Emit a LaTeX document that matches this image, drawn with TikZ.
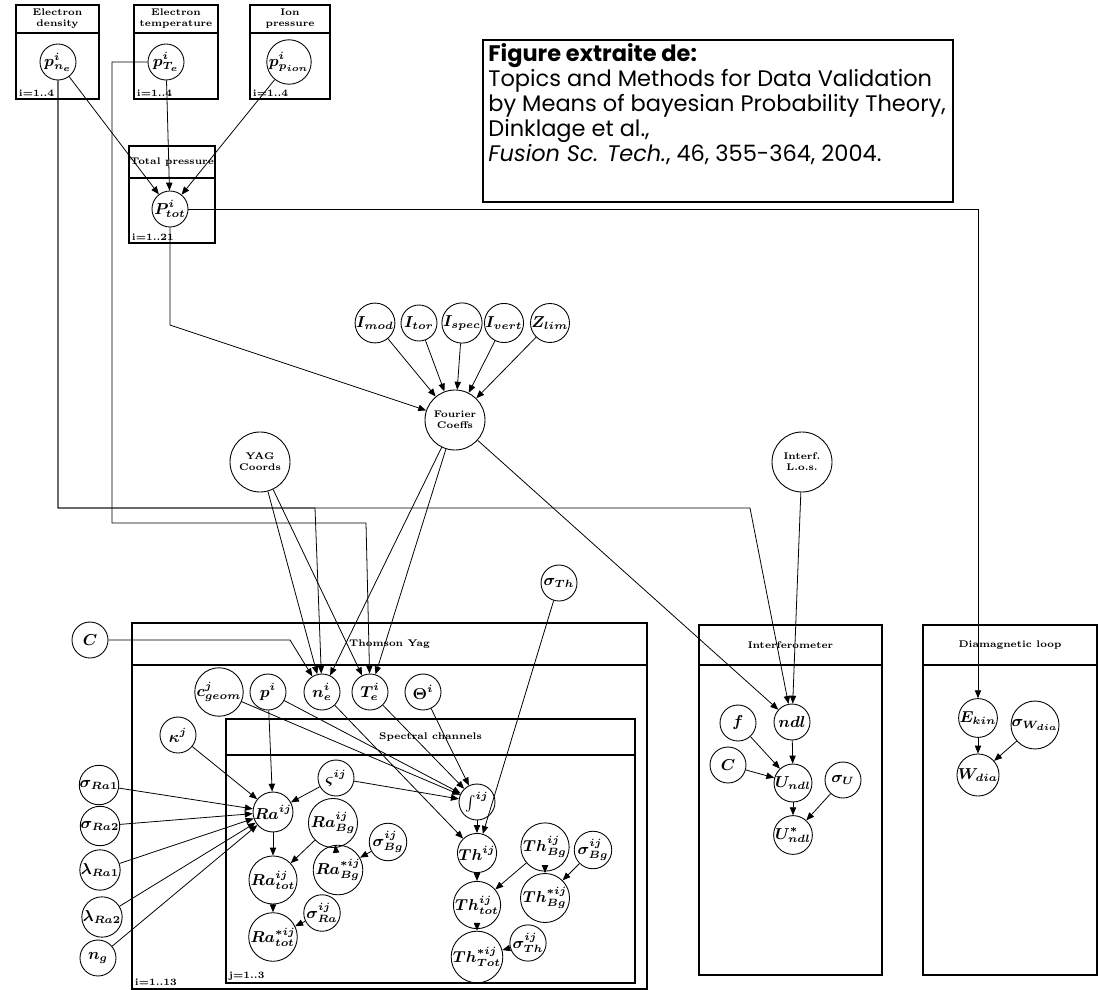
\documentclass[tikz,border=0pt]{standalone}
\usepackage{amsmath, amssymb}
\usepackage{fontspec}
\usepackage{tikz}
\usetikzlibrary{arrows.meta}
\newfontfamily\gothic{Poppins}
% plate: name, x1, y1, x2, y2, header y, title, index
\newcommand{\plate}[8]{%
  \draw[platebox] (#2,#3) rectangle (#4,#5);
  \draw[platebox] (#2,#6) -- (#4,#6);
  \node[platetitle] (#1t) at ({(#2+#4)/2},{(#3+#6)/2}) {#7};
  \node[plateindex] (#1i) at (#2,#5) {#8};
}
\begin{document}
\begin{tikzpicture}[x=0.02cm, y=-0.02cm,
    var/.style={circle, draw, line width=0.5pt, minimum size=0.72cm, inner sep=0pt,
      font=\fontsize{8.6}{10}\selectfont\boldmath},
    bigvar/.style={circle, draw, line width=0.5pt, minimum size=1.2cm, inner sep=0pt,
      align=center, font=\fontsize{5.5}{6.2}\selectfont\bfseries},
    platebox/.style={line width=0.6pt},
    platetitle/.style={align=center, inner sep=0pt, font=\fontsize{5.5}{6.2}\selectfont\bfseries},
    plateindex/.style={anchor=south west, inner sep=1.5pt, font=\fontsize{5.5}{6.2}\selectfont\bfseries},
    arr/.style={-{Triangle[length=4.5pt,width=3.6pt]}, line width=0.45pt}]
  \useasboundingbox (0,0) rectangle (1099,990);

  % Plates
  \plate{dens}{16}{5}{99}{99}{33}{Electron\\density}{i=1..4}
  \plate{temp}{134}{5}{218}{99}{33}{Electron\\temperature}{i=1..4}
  \plate{ion}{250}{5}{330}{99}{33}{Ion\\pressure}{i=1..4}
  \plate{tot}{129}{146}{215}{243}{178}{Total pressure}{i=1..21}
  \plate{thom}{132}{623}{647}{989}{665}{Thomson Yag}{i=1..13}
  \plate{spec}{226}{719}{635}{983}{755}{Spectral channels}{j=1..3}
  \plate{intf}{699}{625}{882}{975}{665}{Interferometer}{}
  \plate{diam}{923}{625}{1097}{975}{665}{Diamagnetic loop}{}

  % Reference box
  \draw[line width=1pt] (483,40) rectangle (953,202);
  \node[anchor=north west, align=left, inner sep=0pt,
    font=\gothic\fontsize{12.8}{14.3}\selectfont] (ref) at (488,43)
    {\textbf{Figure extraite de:}\\
     Topics and Methods for Data Validation\\
     by Means of bayesian Probability Theory,\\
     Dinklage et al.,\\
     \textit{Fusion Sc. Tech.}, 46, 355-364, 2004.};

  % Pressures
  \node[var] (pne) at (58,62) {$p^{i}_{n_e}$};
  \node[var] (pte) at (166,62) {$p^{i}_{T_e}$};
  \node[var] (pion) at (289,62) {$p^{i}_{p_{ion}}$};
  \node[var] (ptot) at (170,209) {$P^{i}_{tot}$};

  % Equilibrium
  \node[var] (imod) at (375,323) {$I_{mod}$};
  \node[var] (itor) at (419,323) {$I_{tor}$};
  \node[var] (ispec) at (462,323) {$I_{spec}$};
  \node[var] (ivert) at (504,323) {$I_{vert}$};
  \node[var] (zlim) at (550,323) {$Z_{lim}$};
  \node[bigvar] (fc) at (455,420) {Fourier\\Coeffs};
  \node[bigvar] (yag) at (260,462) {YAG\\Coords};
  \node[bigvar] (los) at (802,462) {Interf.\\L.o.s.};
  \node[var] (sth) at (559,583) {$\sigma_{Th}$};

  % Thomson Yag
  \node[var] (c1) at (90,640) {$C$};
  \node[var] (cgeom) at (219,692) {$c^{j}_{geom}$};
  \node[var] (pi) at (268,692) {$p^{i}$};
  \node[var] (ne) at (322,692) {$n^{i}_{e}$};
  \node[var] (te) at (370,692) {$T^{i}_{e}$};
  \node[var] (theta) at (423,692) {$\Theta^{i}$};
  \node[var] (kappa) at (178,735) {$\kappa^{j}$};
  \node[var] (zeta) at (336,778) {$\varsigma^{ij}$};
  \node[var] (sra1) at (99,785) {$\sigma_{Ra1}$};
  \node[var] (sra2) at (100,826) {$\sigma_{Ra2}$};
  \node[var] (lra1) at (100,870) {$\lambda_{Ra1}$};
  \node[var] (lra2) at (102,917) {$\lambda_{Ra2}$};
  \node[var] (ng) at (98,958) {$n_{g}$};

  % Spectral channels
  \node[var, minimum size=0.76cm] (ra) at (273,812) {$Ra^{ij}$};
  \node[var] (rabg) at (333,823) {$Ra^{ij}_{Bg}$};
  \node[var] (ratot) at (273,880) {$Ra^{ij}_{tot}$};
  \node[var] (rabgs) at (338,870) {$Ra^{*ij}_{Bg}$};
  \node[var] (sra) at (322,913) {$\sigma^{ij}_{Ra}$};
  \node[var] (ratots) at (273,937) {$Ra^{*ij}_{tot}$};
  \node[var] (sbgl) at (388,842) {$\sigma^{ij}_{Bg}$};
  \node[var] (int) at (477,802) {$\int^{ij}$};
  \node[var] (th) at (477,853) {$Th^{ij}$};
  \node[var] (thbg) at (545,847) {$Th^{ij}_{Bg}$};
  \node[var] (sbgr) at (593,850) {$\sigma^{ij}_{Bg}$};
  \node[var] (thbgs) at (545,898) {$Th^{*ij}_{Bg}$};
  \node[var] (thtot) at (477,905) {$Th^{ij}_{tot}$};
  \node[var] (sthij) at (528,943) {$\sigma^{ij}_{Th}$};
  \node[var] (thtots) at (477,957) {$Th^{*ij}_{Tot}$};

  % Interferometer
  \node[var] (ndl) at (792,722) {$ndl$};
  \node[var] (f) at (738,723) {$f$};
  \node[var] (c2) at (728,765) {$C$};
  \node[var] (undl) at (793,783) {$U_{ndl}$};
  \node[var] (su) at (843,780) {$\sigma_{U}$};
  \node[var] (undls) at (793,835) {$U^{*}_{ndl}$};

  % Diamagnetic loop
  \node[var] (ekin) at (978,718) {$E_{kin}$};
  \node[var] (sw) at (1035,725) {$\sigma_{W_{dia}}$};
  \node[var] (wdia) at (978,775) {$W_{dia}$};

  % Connectors
  \draw[arr] (pne) -- (ptot);
  \draw[arr] (pte) -- (ptot);
  \draw[arr] (pion) -- (ptot);
  \draw[arr] (pne) |- (750,508) -- (ndl);
  \draw[arr] (pne) |- (315,508) -- (ne);
  \draw[arr] (pte.west) -- (112,62) |- (366,523) -- (te);
  \draw[arr] (ptot) -- (170,325) -- (fc);
  \draw[arr] (ptot) -| (ekin);
  \foreach \src in {imod,itor,ispec,ivert,zlim}
    \draw[arr] (\src) -- (fc);
  \draw[arr] (yag) -- (ne);
  \draw[arr] (yag) -- (te);
  \draw[arr] (fc) -- (ne);
  \draw[arr] (fc) -- (te);
  \draw[arr] (fc) -- (ndl);
  \draw[arr] (los) -- (ndl);
  \draw[arr] (c1) -- (290,640) -- (ne);
  \draw[arr] (ne) -- (th);
  \foreach \src in {cgeom,pi,te,theta,zeta}
    \draw[arr] (\src) -- (int);
  \foreach \src in {pi,kappa,zeta,sra1,sra2,lra1,lra2,ng}
    \draw[arr] (\src) -- (ra);
  \draw[arr] (int) -- (th);
  \draw[arr] (sth) -- (th);
  \draw[arr] (ra) -- (ratot);
  \draw[arr] (rabg) -- (ratot);
  \draw[arr] (rabg) -- (rabgs);
  \draw[arr] (sbgl) -- (rabgs);
  \draw[arr] (ratot) -- (ratots);
  \draw[arr] (sra) -- (ratots);
  \draw[arr] (th) -- (thtot);
  \draw[arr] (thbg) -- (thtot);
  \draw[arr] (thbg) -- (thbgs);
  \draw[arr] (sbgr) -- (thbgs);
  \draw[arr] (thtot) -- (thtots);
  \draw[arr] (sthij) -- (thtots);
  \draw[arr] (ndl) -- (undl);
  \draw[arr] (f) -- (undl);
  \draw[arr] (c2) -- (undl);
  \draw[arr] (undl) -- (undls);
  \draw[arr] (su) -- (undls);
  \draw[arr] (ekin) -- (wdia);
  \draw[arr] (sw) -- (wdia);
\end{tikzpicture}
\end{document}
